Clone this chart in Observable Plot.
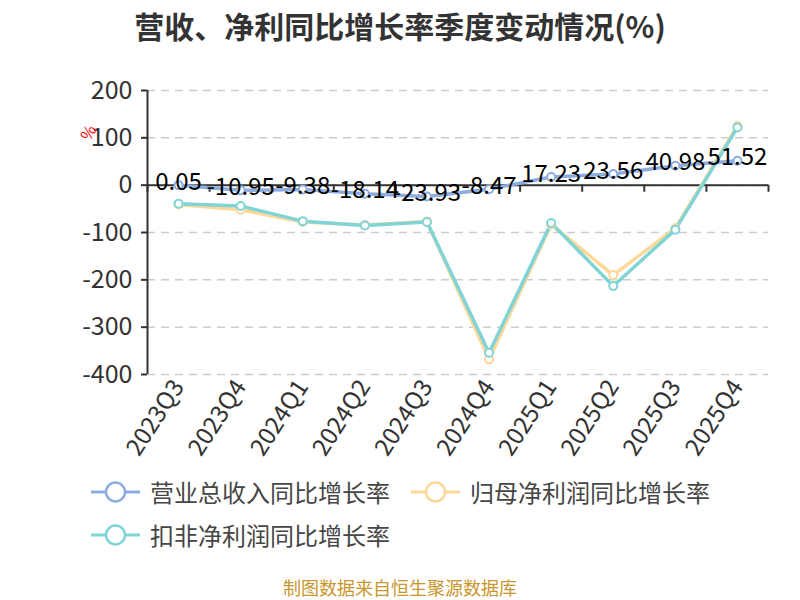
<!DOCTYPE html>
<html><head><meta charset="utf-8">
<script src="https://cdn.jsdelivr.net/npm/d3@7"></script>
<script src="https://cdn.jsdelivr.net/npm/@observablehq/plot@0.6"></script>
<style>
body{margin:0;width:800px;height:600px;position:relative;font-family:"Noto Sans CJK SC","Noto Sans",sans-serif;background:#fff;overflow:hidden}
#title{height:60px;line-height:50px;text-align:center;font-size:30px;font-weight:bold;color:#333}
#chart{height:410px;position:relative}
#legend{position:absolute;left:91px;top:470px;width:640px;display:flex;flex-wrap:wrap;column-gap:21px}
.item{display:flex;align-items:center;height:43px;font-size:24px;color:#464646}
.item svg{margin-right:10px}
#caption{position:absolute;left:0;width:800px;top:576px;text-align:center;font-size:18px;color:#c8962e;line-height:22px}
#unit{position:absolute;left:80px;top:120px;color:red;font-size:16px;transform:rotate(-60deg)}
</style></head><body>
<div id="title">营收、净利同比增长率季度变动情况(%)</div>
<div id="chart"></div>
<div id="legend"></div>
<div id="caption">制图数据来自恒生聚源数据库</div>
<div id="unit">%</div>
<script>
const quarters = ["2023Q3","2023Q4","2024Q1","2024Q2","2024Q3","2024Q4","2025Q1","2025Q2","2025Q3","2025Q4"];
const revenueYoY = [0.05,-10.95,-9.38,-18.14,-23.93,-8.47,17.23,23.56,40.98,51.52];
const parentNetProfitYoY = [-41,-52,-78,-84,-77,-368,-83,-190,-91,125];
const deductedNetProfitYoY = [-39,-44,-76,-85,-78,-354,-80,-213,-94,122];
const seriesNames = ["营业总收入同比增长率","归母净利润同比增长率","扣非净利润同比增长率"];
const seriesColors = ["#8daddf","#ffd899","#80d4d6"];
const yTicks = [200,100,0,-100,-200,-300,-400];

const idx = quarters.map((q,i)=>i);
const boundaries = d3.range(quarters.length+1).map(i=>i-0.5);
const rows = quarters.map((q,i)=>({i, q, rev: revenueYoY[i], par: parentNetProfitYoY[i], ded: deductedNetProfitYoY[i]}));
const fields = ["rev","par","ded"];

const seriesMarks = [];
fields.forEach((f,k)=>{
  seriesMarks.push(Plot.line(rows,{x:"i",y:f,stroke:seriesColors[k],strokeWidth:3.5}));
});
fields.forEach((f,k)=>{
  seriesMarks.push(Plot.dot(rows,{x:"i",y:f,r:4,fill:"white",stroke:seriesColors[k],strokeWidth:2}));
});

const chart = Plot.plot({
  width:800, height:410,
  marginLeft:147, marginRight:32, marginTop:30, marginBottom:96,
  x:{type:"linear", domain:[-0.5, quarters.length-0.5]},
  y:{domain:[-400,200]},
  style:{fontFamily:'"Noto Sans CJK SC","Noto Sans",sans-serif', fontSize:"24px", color:"#333", background:"white"},
  marks:[
    Plot.gridY(yTicks,{stroke:"#ccc",strokeOpacity:1,strokeDasharray:"8,6",strokeWidth:1.5}),
    Plot.axisY(yTicks,{tickSize:6,tickPadding:9,tickFormat:d=>String(d),fontSize:25,color:"#333",strokeWidth:2,label:null}),
    Plot.axisX(idx,{tickSize:0,tickRotate:-57,tickFormat:i=>quarters[i],fontSize:24,color:"#333",tickPadding:8,label:null}),
    Plot.ruleX([-0.5],{stroke:"#333",strokeWidth:2}),
    Plot.ruleY([0],{stroke:"#333",strokeWidth:2}),
    Plot.ruleX(boundaries,{x:d=>d,y1:0,y2:-15,stroke:"#333",strokeWidth:2}),
    ...seriesMarks,
    Plot.text(rows,{x:"i",y:"rev",text:d=>String(d.rev),dy:-3,fontSize:24,fill:"#000"})
  ]
});
document.getElementById("chart").appendChild(chart);

const legend = document.getElementById("legend");
seriesNames.forEach((name,k)=>{
  const item = document.createElement("div");
  item.className = "item";
  item.innerHTML = `<svg width="49" height="24"><line x1="0" y1="12" x2="49" y2="12" stroke="${seriesColors[k]}" stroke-width="3"/><circle cx="24.5" cy="12" r="9.5" fill="white" stroke="${seriesColors[k]}" stroke-width="2.5"/></svg><span>${name}</span>`;
  legend.appendChild(item);
});
</script>
</body></html>
